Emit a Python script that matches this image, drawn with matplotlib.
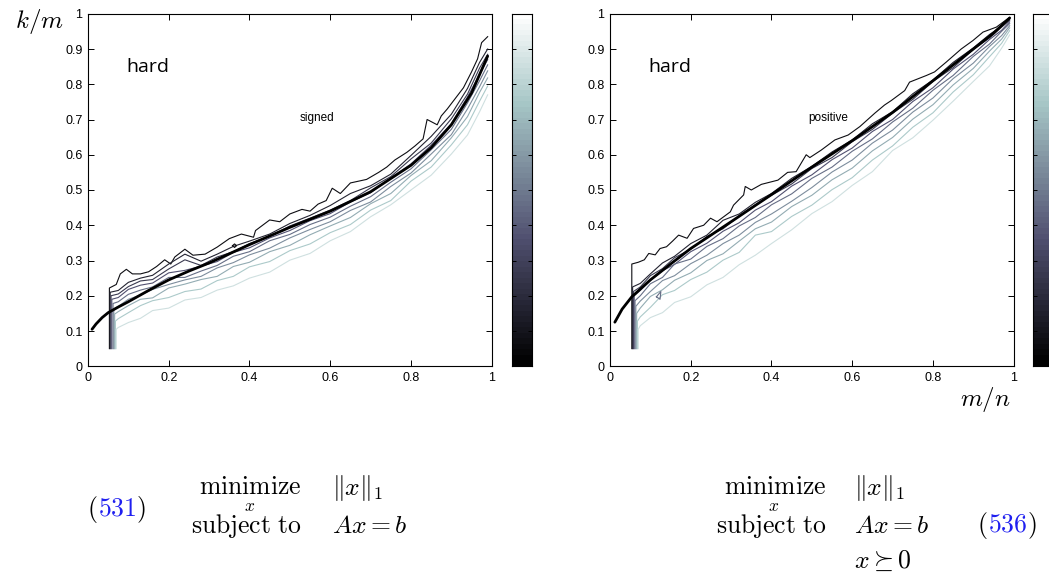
import numpy as np
import matplotlib
matplotlib.use("Agg")
import matplotlib.pyplot as plt

plt.rcParams['mathtext.fontset'] = 'cm'
plt.rcParams['font.family'] = ['Liberation Sans', 'DejaVu Sans']

# ---------------------------------------------------------------- data
LEVELS = [0.1, 0.2, 0.3, 0.4, 0.5, 0.6, 0.7, 0.8, 0.9]
X_TICKS = [0, 0.2, 0.4, 0.6, 0.8, 1]
X_TICK_LABELS = ["0", "0.2", "0.4", "0.6", "0.8", "1"]
Y_TICKS = [0, 0.1, 0.2, 0.3, 0.4, 0.5, 0.6, 0.7, 0.8, 0.9, 1]
Y_TICK_LABELS = ["0", "0.1", "0.2", "0.3", "0.4", "0.5", "0.6", "0.7", "0.8", "0.9", "1"]

# theoretical transition curves
CURVE_SIGNED_D = [0.01, 0.02, 0.035, 0.05, 0.075, 0.1, 0.15, 0.2, 0.25, 0.3, 0.4,
                  0.5, 0.6, 0.7, 0.8, 0.85, 0.9, 0.95, 0.99]
CURVE_SIGNED_R = [0.105, 0.12, 0.138, 0.152, 0.168, 0.183, 0.215, 0.245, 0.27, 0.293, 0.345,
                  0.394, 0.44, 0.495, 0.57, 0.62, 0.685, 0.775, 0.88]
CURVE_POS_D = [0.012, 0.03, 0.054, 0.1, 0.15, 0.2, 0.3, 0.4, 0.5, 0.6, 0.7, 0.8, 0.9, 0.95, 0.99]
CURVE_POS_R = [0.125, 0.162, 0.197, 0.245, 0.29, 0.334, 0.41, 0.487, 0.565, 0.64, 0.72, 0.81,
               0.9, 0.945, 0.988]

# outermost (level 0.1) empirical contour
TOP_SIGNED_D = [0.053, 0.053, 0.07, 0.08, 0.095, 0.11, 0.13, 0.15, 0.17, 0.19, 0.205, 0.215,
                0.24, 0.26, 0.29, 0.32, 0.35, 0.38, 0.41, 0.415, 0.45, 0.475, 0.5, 0.53, 0.55,
                0.57, 0.59, 0.605, 0.625, 0.65, 0.69, 0.72, 0.74, 0.76, 0.79, 0.81, 0.83, 0.84,
                0.865, 0.875, 0.89, 0.91, 0.93, 0.95, 0.965, 0.975, 0.99]
TOP_SIGNED_R = [0.05, 0.222, 0.232, 0.262, 0.275, 0.262, 0.262, 0.268, 0.283, 0.302, 0.29,
                0.31, 0.332, 0.315, 0.318, 0.338, 0.362, 0.375, 0.366, 0.385, 0.415, 0.41,
                0.432, 0.445, 0.44, 0.46, 0.47, 0.505, 0.49, 0.52, 0.53, 0.55, 0.565, 0.585,
                0.607, 0.625, 0.645, 0.70, 0.685, 0.71, 0.73, 0.76, 0.79, 0.835, 0.872,
                0.918, 0.935]
TOP_POS_D = [0.054, 0.054, 0.07, 0.085, 0.096, 0.112, 0.124, 0.14, 0.155, 0.17, 0.191, 0.207,
             0.232, 0.249, 0.265, 0.298, 0.306, 0.331, 0.335, 0.35, 0.375, 0.416, 0.44, 0.461,
             0.486, 0.495, 0.523, 0.557, 0.59, 0.619, 0.656, 0.68, 0.697, 0.73, 0.742, 0.784,
             0.804, 0.833, 0.87, 0.899, 0.924, 0.957, 0.99]
TOP_POS_R = [0.05, 0.29, 0.295, 0.302, 0.32, 0.316, 0.334, 0.339, 0.355, 0.372, 0.363, 0.391,
             0.4, 0.42, 0.41, 0.438, 0.457, 0.486, 0.51, 0.5, 0.516, 0.528, 0.55, 0.552, 0.6,
             0.592, 0.613, 0.642, 0.656, 0.68, 0.718, 0.741, 0.754, 0.782, 0.806, 0.825,
             0.835, 0.863, 0.9, 0.924, 0.948, 0.962, 0.99]

# remaining contour levels (0.2 ... 0.9) on a common m/n grid
GRID = [0.075, 0.1, 0.13, 0.16, 0.2, 0.24, 0.28, 0.32, 0.36, 0.4, 0.45, 0.5, 0.55, 0.6,
        0.65, 0.7, 0.75, 0.8, 0.85, 0.9, 0.94, 0.97, 0.99]

FOOT_SIGNED_D = [0.055, 0.057, 0.059, 0.062, 0.064, 0.066, 0.068, 0.070]
FOOT_SIGNED_R = [0.21, 0.2, 0.19, 0.178, 0.163, 0.148, 0.128, 0.105]
SIGNED_LEVELS = [
    [0.215, 0.238, 0.25, 0.258, 0.29, 0.318, 0.298, 0.318, 0.34, 0.355, 0.375, 0.405,
     0.428, 0.456, 0.49, 0.512, 0.545, 0.598, 0.652, 0.715, 0.788, 0.862, 0.9],
    [0.205, 0.226, 0.242, 0.246, 0.276, 0.302, 0.286, 0.31, 0.325, 0.348, 0.368, 0.398,
     0.42, 0.443, 0.47, 0.506, 0.538, 0.588, 0.633, 0.702, 0.772, 0.846, 0.885],
    [0.195, 0.218, 0.23, 0.236, 0.265, 0.272, 0.284, 0.297, 0.323, 0.336, 0.364, 0.385,
     0.413, 0.433, 0.466, 0.492, 0.534, 0.574, 0.627, 0.688, 0.764, 0.828, 0.87],
    [0.183, 0.204, 0.216, 0.225, 0.252, 0.252, 0.27, 0.286, 0.312, 0.325, 0.356, 0.374,
     0.402, 0.423, 0.454, 0.481, 0.522, 0.56, 0.614, 0.672, 0.747, 0.81, 0.855],
    [0.17, 0.19, 0.202, 0.218, 0.232, 0.245, 0.255, 0.279, 0.294, 0.316, 0.335, 0.364,
     0.388, 0.41, 0.442, 0.466, 0.51, 0.548, 0.602, 0.657, 0.73, 0.793, 0.838],
    [0.155, 0.172, 0.19, 0.194, 0.222, 0.233, 0.246, 0.255, 0.283, 0.295, 0.325, 0.343,
     0.373, 0.398, 0.422, 0.461, 0.49, 0.541, 0.583, 0.648, 0.708, 0.777, 0.818],
    [0.135, 0.152, 0.172, 0.186, 0.195, 0.212, 0.219, 0.243, 0.255, 0.282, 0.297, 0.328,
     0.347, 0.379, 0.402, 0.443, 0.47, 0.525, 0.565, 0.628, 0.685, 0.752, 0.795],
    [0.11, 0.124, 0.136, 0.158, 0.165, 0.188, 0.195, 0.216, 0.228, 0.25, 0.267, 0.301,
     0.32, 0.356, 0.382, 0.424, 0.458, 0.5, 0.542, 0.602, 0.656, 0.722, 0.77],
]

FOOT_POS_D = [0.056, 0.058, 0.060, 0.062, 0.064, 0.066, 0.068, 0.070]
FOOT_POS_R = [0.225, 0.212, 0.2, 0.186, 0.17, 0.15, 0.128, 0.105]
POS_LEVELS = [
    [0.235, 0.262, 0.293, 0.312, 0.348, 0.372, 0.414, 0.432, 0.465, 0.49, 0.533, 0.567,
     0.608, 0.642, 0.688, 0.722, 0.773, 0.812, 0.862, 0.903, 0.941, 0.965, 0.985],
    [0.225, 0.257, 0.277, 0.308, 0.332, 0.368, 0.39, 0.426, 0.458, 0.485, 0.517, 0.561,
     0.592, 0.637, 0.672, 0.718, 0.757, 0.808, 0.847, 0.899, 0.931, 0.962, 0.981],
    [0.215, 0.243, 0.271, 0.289, 0.325, 0.349, 0.383, 0.407, 0.443, 0.467, 0.511, 0.543,
     0.586, 0.619, 0.666, 0.7, 0.751, 0.79, 0.843, 0.885, 0.927, 0.953, 0.977],
    [0.2, 0.234, 0.252, 0.29, 0.304, 0.34, 0.362, 0.398, 0.422, 0.458, 0.489, 0.533,
     0.565, 0.61, 0.645, 0.693, 0.732, 0.783, 0.825, 0.879, 0.914, 0.95, 0.972],
    [0.185, 0.212, 0.243, 0.257, 0.291, 0.315, 0.348, 0.372, 0.408, 0.432, 0.468, 0.507,
     0.551, 0.585, 0.633, 0.67, 0.721, 0.761, 0.816, 0.86, 0.907, 0.938, 0.966],
    [0.165, 0.198, 0.217, 0.244, 0.265, 0.3, 0.319, 0.355, 0.39, 0.409, 0.453, 0.485,
     0.529, 0.562, 0.611, 0.649, 0.701, 0.742, 0.798, 0.845, 0.894, 0.928, 0.96],
    [0.14, 0.167, 0.203, 0.215, 0.246, 0.267, 0.301, 0.323, 0.372, 0.382, 0.425, 0.457,
     0.501, 0.535, 0.585, 0.625, 0.678, 0.719, 0.778, 0.827, 0.878, 0.916, 0.952],
    [0.115, 0.138, 0.152, 0.181, 0.197, 0.231, 0.252, 0.288, 0.315, 0.348, 0.387, 0.433,
     0.467, 0.513, 0.552, 0.612, 0.648, 0.698, 0.752, 0.808, 0.852, 0.902, 0.94],
]

# small closed contour islands
ISLAND_SIGNED_D = [0.358, 0.363, 0.368, 0.363, 0.358]
ISLAND_SIGNED_R = [0.342, 0.347, 0.342, 0.337, 0.342]
ISLAND_POS_D = [0.115, 0.126, 0.124, 0.115]
ISLAND_POS_R = [0.197, 0.212, 0.19, 0.197]

# ---------------------------------------------------------------- figure
W, H = 1049, 574
fig = plt.figure(figsize=(W / 100, H / 100), dpi=100)
bone = plt.get_cmap('bone')
bone64 = plt.get_cmap('bone', 64)


def frac(px, py):
    return px / W, 1 - py / H


AX_Y0 = 1 - 366.25 / H
AX_H = 352.5 / H
AX_W = 403.7 / W
CB_W = 20 / W


def style_axes(ax):
    ax.set_xlim(0, 1)
    ax.set_ylim(0, 1)
    ax.set_xticks(X_TICKS)
    ax.set_xticklabels(X_TICK_LABELS)
    ax.set_yticks(Y_TICKS)
    ax.set_yticklabels(Y_TICK_LABELS)
    ax.tick_params(direction='in', length=4, width=0.7, top=True, right=True,
                   labelsize=9, pad=4, colors='black')
    for s in ax.spines.values():
        s.set_linewidth(0.8)


def line_color(level):
    return bone(level - 0.04)


def draw_panel(ax, top_d, top_r, foot_d, foot_r, lines, island_d, island_r,
               island_level, curve_d, curve_r):
    ax.plot(top_d, top_r, color=line_color(LEVELS[0]), lw=0.8)
    for k, vals in enumerate(lines):
        lev = LEVELS[k + 1]
        xs = [foot_d[k], foot_d[k]] + GRID
        ys = [0.05, foot_r[k]] + vals
        ax.plot(xs, ys, color=line_color(lev), lw=0.8)
    ax.plot(island_d, island_r, color=line_color(island_level), lw=0.8)
    ax.plot(curve_d, curve_r, color='black', lw=2.0, solid_capstyle='round')
    style_axes(ax)


def colorbar_axes(x_px):
    cax = fig.add_axes([x_px / W, AX_Y0, CB_W, AX_H])
    grad = np.linspace(0, 1, 64)[:, None]
    cax.imshow(grad, aspect='auto', cmap=bone64, origin='lower', extent=[0, 1, 0, 1])
    cax.set_xticks([])
    cax.set_yticks(LEVELS)
    cax.set_yticklabels([])
    cax.tick_params(direction='in', length=3, width=0.7, left=True, right=True)
    for s in cax.spines.values():
        s.set_linewidth(0.8)
    return cax


axL = fig.add_axes([88 / W, AX_Y0, AX_W, AX_H])
draw_panel(axL, TOP_SIGNED_D, TOP_SIGNED_R, FOOT_SIGNED_D, FOOT_SIGNED_R, SIGNED_LEVELS,
           ISLAND_SIGNED_D, ISLAND_SIGNED_R, LEVELS[0], CURVE_SIGNED_D, CURVE_SIGNED_R)
axL.text(0.095, 0.85, "hard", fontsize=14, family=['Open Sans', 'DejaVu Sans'],
         ha='left', va='center')
axL.text(0.567, 0.704, "signed", fontsize=8.5, ha='center', va='center')
colorbar_axes(512)

axR = fig.add_axes([610 / W, AX_Y0, AX_W, AX_H])
draw_panel(axR, TOP_POS_D, TOP_POS_R, FOOT_POS_D, FOOT_POS_R, POS_LEVELS,
           ISLAND_POS_D, ISLAND_POS_R, LEVELS[4], CURVE_POS_D, CURVE_POS_R)
axR.text(0.094, 0.85, "hard", fontsize=14, family=['Open Sans', 'DejaVu Sans'],
         ha='left', va='center')
axR.text(0.54, 0.704, "positive", fontsize=8.5, ha='center', va='center')
colorbar_axes(1033)

# axis captions
fig.text(*frac(39, 22), r"$k/m$", fontsize=18, ha='center', va='center')
fig.text(*frac(985, 400), r"$m/n$", fontsize=18, ha='center', va='center')

# optimisation problems
FS = 18.5


def problem(right_px, var_px, expr_px, extra=None):
    fig.text(*frac(right_px, 494), r"$\mathrm{minimize}$", fontsize=FS, ha='right',
             va='baseline')
    fig.text(*frac(var_px, 511), r"$x$", fontsize=12.5, ha='center', va='baseline')
    fig.text(*frac(right_px, 533), r"$\mathrm{subject\ to}$", fontsize=FS, ha='right',
             va='baseline')
    fig.text(*frac(expr_px, 495), r"$\|x\|_1$", fontsize=FS, ha='left', va='baseline')
    fig.text(*frac(expr_px, 533), r"$Ax = b$", fontsize=FS, ha='left', va='baseline')
    if extra:
        fig.text(*frac(expr_px, 568), extra, fontsize=FS, ha='left', va='baseline')


def number_tag(x_px, y_px, num):
    parts = [(r"$($", 'black'), (r"$%s$" % num, '#1f1ff0'), (r"$)$", 'black')]
    x = x_px / W
    for s, c in parts:
        t = fig.text(x, 1 - y_px / H, s, fontsize=FS, color=c, ha='left', va='baseline')
        fig.canvas.draw()
        x = t.get_window_extent().x1 / fig.bbox.width


problem(302, 250, 332)
problem(827, 774, 854, r"$x \succeq 0$")
number_tag(87, 516, "531")
number_tag(977, 532, "536")

fig.savefig("out.png", dpi=100)
